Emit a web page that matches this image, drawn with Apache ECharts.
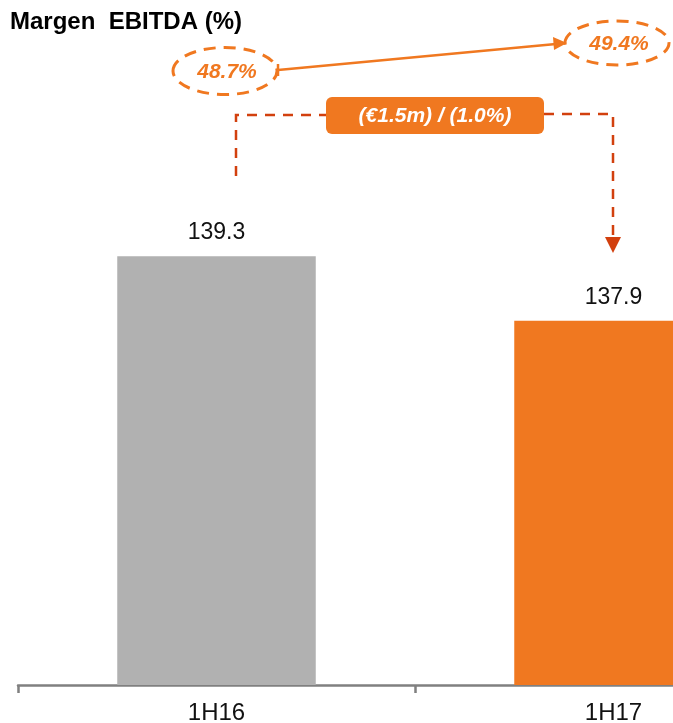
<!DOCTYPE html>
<html>
<head>
<meta charset="utf-8">
<script src="https://cdn.jsdelivr.net/npm/echarts@6/dist/echarts.min.js"></script>
<style>
  html, body { margin: 0; padding: 0; background: #fff; }
  #chart { width: 673px; height: 723px; }
</style>
</head>
<body>
<div id="chart"></div>
<script>
// EBITDA (€m) by half-year
const categories = ["1H16", "1H17"];
const ebitda = [139.3, 137.9];
const barColors = ["#B1B1B1", "#F07820"];

// margin call-outs
const marginLabels = ["48.7%", "49.4%"];
const deltaLabel = "(€1.5m) / (1.0%)";

const ORANGE = "#F07820";
const DARK_ORANGE = "#D2400E";
const FONT = "Liberation Sans, Arial, sans-serif";

const chart = echarts.init(document.getElementById("chart"), null, { renderer: "canvas" });

const dashEllipse = (cx, cy, rx, ry) => ({
  type: "ellipse",
  shape: { cx, cy, rx, ry },
  style: { fill: null, stroke: ORANGE, lineWidth: 3, lineDash: [12, 8] },
});

const pctText = (x, y, text) => ({
  type: "text",
  x, y,
  style: {
    text, fill: ORANGE, font: `italic bold 21px ${FONT}`,
    align: "center", verticalAlign: "middle",
  },
});

chart.setOption({
  animation: false,
  title: {
    text: "Margen  EBITDA (%)",
    left: 10,
    top: 10,
    padding: 0,
    textStyle: { fontFamily: FONT, fontSize: 24, fontWeight: "bold", color: "#000" },
  },
  // plot area runs past the right edge: the 1H17 bar is cut off
  grid: { left: 18, right: -139, top: 224, bottom: 38, containLabel: false, outerBoundsMode: "none" },
  xAxis: {
    type: "category",
    data: categories,
    axisLine: { lineStyle: { color: "#808080", width: 2.5 } },
    axisTick: { show: true, length: 8, lineStyle: { color: "#808080", width: 2.5 } },
    axisLabel: { color: "#111", fontFamily: FONT, fontSize: 24, margin: 16 },
  },
  yAxis: { type: "value", min: 130, max: 140, show: false, splitLine: { show: false } },
  series: [{
    type: "bar",
    barWidth: "50%",
    data: ebitda.map((v, i) => ({ value: v, itemStyle: { color: barColors[i] } })),
    label: {
      show: true, position: "top", distance: 12,
      color: "#111", fontFamily: FONT, fontSize: 23,
    },
  }],
  graphic: [
    // margin ellipses + arrow
    dashEllipse(225, 71, 52, 23.5),
    dashEllipse(617, 43, 52, 22),
    pctText(227, 72, marginLabels[0]),
    pctText(619, 44, marginLabels[1]),
    { type: "line", shape: { x1: 278, y1: 70, x2: 556, y2: 44 }, style: { stroke: ORANGE, lineWidth: 2.5 } },
    { type: "line", shape: { x1: 278, y1: 64, x2: 278, y2: 76 }, style: { stroke: ORANGE, lineWidth: 2.5 } },
    { type: "polygon", shape: { points: [[567, 43], [553, 37], [554, 50]] }, style: { fill: ORANGE } },
    // dashed bracket
    { type: "polyline", shape: { points: [[236, 176], [236, 115], [326, 115]] },
      style: { fill: null, stroke: DARK_ORANGE, lineWidth: 2.5, lineDash: [10, 8] } },
    { type: "polyline", shape: { points: [[544, 114], [613, 114], [613, 238]] },
      style: { fill: null, stroke: DARK_ORANGE, lineWidth: 2.5, lineDash: [10, 8] } },
    { type: "polygon", shape: { points: [[605, 237], [621, 237], [613, 253]] }, style: { fill: DARK_ORANGE } },
    // delta box
    { type: "rect", shape: { x: 326, y: 97, width: 218, height: 37, r: 6 }, style: { fill: ORANGE } },
    { type: "text", x: 435, y: 116,
      style: { text: deltaLabel, fill: "#fff", font: `italic bold 21px ${FONT}`, align: "center", verticalAlign: "middle" } },
  ],
});
</script>
</body>
</html>
